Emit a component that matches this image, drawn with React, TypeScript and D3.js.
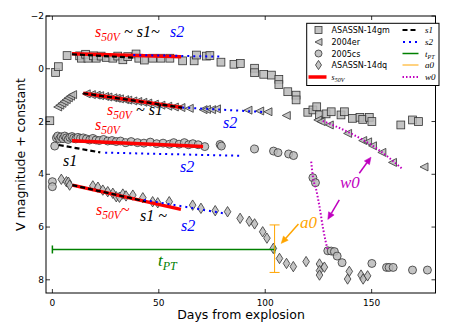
import React from 'react';
import * as d3 from 'd3';

// ---------------- DATA ----------------
// ASASSN-14gm (squares): [day, mag]
const gmData: [number, number][] = [
  [-1.2, 1.97], [1.5, 0.14], [2.8, -0.08], [6.9, -0.5], [12.8, -0.49], [13.6, -0.4], [15.6, -0.55],
  [16.7, -0.4], [19.3, -0.49], [20.6, -0.4], [22.9, -0.48], [25.3, -0.43], [28.4, -0.4], [30.7, -0.48],
  [33.1, -0.34], [35.4, -0.46], [39.3, -0.56], [40.6, -0.4], [43.2, -0.33], [47.1, -0.4], [51, -0.4],
  [55.2, -0.4], [61.2, -0.3], [66.6, -0.3], [67.7, -0.52], [72.4, -0.48], [74, -0.5], [79.2, -0.25],
  [85.3, -0.17], [88.3, -0.2], [95, -0.02], [95, 0.15], [99.3, 0.21], [102.9, 0.24], [106.4, 0.4],
  [106.4, 0.6], [110.6, 0.87], [114.5, 1.0], [114.5, 1.18], [120, 1.65], [122.4, 1.56], [124.2, 1.44],
  [125.5, 1.75], [128.6, 1.71], [131, 1.63], [135.6, 1.75], [137.2, 1.63], [141, 1.88], [144.5, 1.84],
  [145.8, 1.92], [148.9, 1.84], [150.1, 2.0], [163.7, 2.13], [169.2, 1.94], [172, 2.0],
];
// 2004er (left triangles)
const erData: [number, number][] = [
  [2.5, 1.45], [3.5, 1.38], [4.5, 1.31], [5.5, 1.24], [6.5, 1.17], [7.5, 1.1], [8.5, 1.04], [9.5, 0.98],
  [15.9, 0.95], [18.3, 0.98], [20.6, 1.0], [22.2, 1.02], [24.5, 1.05], [26.1, 1.07], [28.4, 1.1],
  [30, 1.12], [31.5, 1.14], [33.9, 1.17], [35.4, 1.19], [37.8, 1.22], [40.1, 1.24], [42.5, 1.27],
  [44.8, 1.3], [47.9, 1.34], [51, 1.38], [54.2, 1.42], [57.3, 1.45], [60.4, 1.47], [64.3, 1.5],
  [70.8, 1.55], [72.4, 1.54], [74.8, 1.55], [77.1, 1.52], [91.9, 1.57], [97.4, 1.6], [101.3, 1.63],
  [109.9, 1.77], [124.7, 1.94], [126.2, 2.0], [130.1, 2.13], [138.7, 2.45], [145.8, 2.72],
  [148.1, 2.77], [150.4, 2.92], [154.8, 3.17], [159.8, 3.55], [174.6, 3.72],
];
// 2005cs (circles)
const csData: [number, number][] = [
  [1.1, 2.93], [0, 4.28], [0, 4.47],
  [1.9, 2.62], [2.5, 2.55], [3.4, 2.66], [4.1, 2.58], [5, 2.65], [5.8, 2.55], [6.6, 2.62], [7.4, 2.68],
  [8.2, 2.6], [9.2, 2.57], [10, 2.63], [11, 2.66], [12, 2.6], [13.2, 2.64], [14.5, 2.62], [16, 2.66],
  [17.5, 2.7], [19, 2.64], [20.5, 2.7], [22, 2.72], [24, 2.68], [26, 2.74], [28, 2.72], [30, 2.76],
  [32, 2.74], [34.5, 2.8], [37, 2.76], [40, 2.8], [43, 2.82], [46, 2.78], [49, 2.84], [52, 2.82],
  [55, 2.86], [57, 2.8], [59.5, 2.86], [62, 2.8], [64, 2.88], [66, 2.84], [68.5, 2.88], [71.6, 2.95],
  [78.8, 2.87], [79.4, 2.93], [95, 3.04], [103.9, 3.12], [106, 3.18], [111, 3.23], [113.3, 3.29],
  [122.4, 4.13], [123.6, 4.32], [129.4, 6.9], [131, 6.91], [132.5, 6.93], [133.8, 7.1], [136.1, 7.35],
  [150.1, 7.38], [157, 7.53], [158.2, 7.53], [160.1, 7.53], [169.2, 7.63], [176.2, 7.63],
];
// ASASSN-14dq (thin diamonds)
const dqData: [number, number][] = [
  [4.2, 4.19], [6.6, 4.28], [7.5, 4.3], [8.1, 4.41], [19, 4.44], [21.4, 4.49], [23.7, 4.6], [26, 4.66],
  [28.4, 4.72], [30, 4.85], [31.5, 4.87], [33.1, 4.75], [34.6, 4.82], [37.8, 4.79], [42.5, 4.89],
  [47.1, 5.04], [49.5, 5.08], [54.9, 5.04], [65.9, 5.17], [69.8, 5.29], [76.5, 5.38], [82.3, 5.42],
  [88.2, 5.67], [92.5, 5.78], [95, 5.88], [98.8, 6.18], [100.8, 6.42], [103.8, 6.81], [106.7, 7.19],
  [110, 7.38], [113.2, 7.5], [119.2, 7.31], [125.5, 7.4], [125.5, 7.65], [125.5, 7.82], [127.8, 7.52],
  [139.5, 7.68], [138.7, 7.97], [145, 7.82], [146, 7.97], [148.1, 7.85],
];

// Fitted slopes: s50V (red), s1 (black dashed), s2 (blue dotted)
const s50vLines: [number, number][][] = [
  [[9.2, -0.57], [60.5, -0.46]],
  [[14.5, 0.93], [61, 1.47]],
  [[9.2, 2.73], [70.8, 2.95]],
  [[9.4, 4.41], [60.4, 5.33]],
];
const s1Lines: [number, number][][] = [
  [[9.2, -0.55], [38, -0.42]],
  [[14.5, 0.93], [61, 1.47]],
  [[3, 2.89], [22.5, 3.17]],
  [[9.4, 4.41], [44, 5.03]],
];
const s2Lines: [number, number][][] = [
  [[38, -0.52], [79, -0.46]],
  [[61, 1.47], [99.5, 1.64]],
  [[24.8, 3.18], [89, 3.3]],
  [[43, 4.97], [82, 5.5]],
];
const w0Lines: [number, number][][] = [
  [[127, 1.98], [139, 2.4], [152, 3.0], [164.5, 3.8]],
  [[121.6, 3.52], [122.4, 4.09], [124, 4.6], [125.5, 5.23], [127.3, 6.11], [129.4, 6.9]],
];
// t_PT and a0
const tPT = 104.4;
const tPTMag = 6.85;
const a0Range: [number, number] = [5.92, 7.72];

const xTicks = [0, 50, 100, 150];
const yTicks = [-2, 0, 2, 4, 6, 8];

const legendLeft = ['ASASSN-14gm', '2004er', '2005cs', 'ASASSN-14dq'];

// ---------------- SCALES ----------------
const x = d3.scaleLinear().domain([-3, 180]).range([46, 435.5]);
const y = d3.scaleLinear().domain([-2, 8.5]).range([16, 293]);
const line = d3.line<[number, number]>().x(d => x(d[0])).y(d => y(d[1]));
const curve = d3.line<[number, number]>().x(d => x(d[0])).y(d => y(d[1])).curve(d3.curveMonotoneX);

const RED = '#ff0000', BLUE = '#0000ff', GREEN = '#008000', ORANGE = '#ffa500', MAG = '#bf00bf';
const MFILL = '#bababa', MSTROKE = '#333';
const MATH = '"Liberation Serif", "DejaVu Serif", serif';
const SANS = '"DejaVu Sans", sans-serif';

function Square({ cx, cy, s = 3.9 }: any) {
  return <rect x={cx - s} y={cy - s} width={2 * s} height={2 * s} fill={MFILL} fillOpacity={0.85} stroke={MSTROKE} strokeWidth={0.8} />;
}
function Circ({ cx, cy, r = 4 }: any) {
  return <circle cx={cx} cy={cy} r={r} fill={MFILL} fillOpacity={0.85} stroke={MSTROKE} strokeWidth={0.8} />;
}
function Tri({ cx, cy, r = 4 }: any) {
  const p = `M${cx - r},${cy} L${cx + r},${cy - r} L${cx + r},${cy + r} Z`;
  return <path d={p} fill={MFILL} fillOpacity={0.85} stroke={MSTROKE} strokeWidth={0.8} />;
}
function Dia({ cx, cy, w = 3.3, h = 5.2 }: any) {
  const p = `M${cx},${cy - h} L${cx + w},${cy} L${cx},${cy + h} L${cx - w},${cy} Z`;
  return <path d={p} fill={MFILL} fillOpacity={0.85} stroke={MSTROKE} strokeWidth={0.8} />;
}

function Arrow({ from, to, color }: { from: [number, number]; to: [number, number]; color: string }) {
  const x1 = x(from[0]), y1 = y(from[1]), x2 = x(to[0]), y2 = y(to[1]);
  const ang = Math.atan2(y2 - y1, x2 - x1);
  const hl = 7, hw = 3.2;
  const bx = x2 - hl * Math.cos(ang), by = y2 - hl * Math.sin(ang);
  const px = -Math.sin(ang) * hw, py = Math.cos(ang) * hw;
  return (
    <g>
      <line x1={x1} y1={y1} x2={bx} y2={by} stroke={color} strokeWidth={1.5} />
      <path d={`M${x2},${y2} L${bx + px},${by + py} L${bx - px},${by - py} Z`} fill={color} stroke={color} strokeWidth={0.5} />
    </g>
  );
}

function S50V({ px, py, size = 16, sub = 11.5, color = RED, tail = '' }: any) {
  return (
    <text x={px} y={py} fontFamily={MATH} fontStyle="italic" fontSize={size} fill={color}>
      s<tspan fontSize={sub} dy={4}>50V</tspan><tspan dy={-4}>{tail}</tspan>
    </text>
  );
}
function T({ px, py, children, color, size = 16 }: any) {
  return <text x={px} y={py} fontFamily={MATH} fontStyle="italic" fontSize={size} fill={color}>{children}</text>;
}

export default function App() {
  const x0 = 46, x1 = 435.5, y0 = 16, y1 = 293;
  const legRows = [30, 42, 53.5, 65, 77];
  return (
    <svg width={458} height={327} style={{ position: 'fixed', left: 0, top: 0, background: '#fff' }}>
      <rect width={458} height={327} fill="#fff" />
      <g>
        {gmData.map((d, i) => <Square key={'g' + i} cx={x(d[0])} cy={y(d[1])} />)}
        {erData.map((d, i) => <Tri key={'e' + i} cx={x(d[0])} cy={y(d[1])} />)}
        {csData.map((d, i) => <Circ key={'c' + i} cx={x(d[0])} cy={y(d[1])} />)}
        {dqData.map((d, i) => <Dia key={'d' + i} cx={x(d[0])} cy={y(d[1])} />)}
      </g>
      <g>
        <line x1={x(0)} x2={x(tPT)} y1={y(tPTMag)} y2={y(tPTMag)} stroke={GREEN} strokeWidth={1.5} />
        <line x1={x(0)} x2={x(0)} y1={y(tPTMag) - 4} y2={y(tPTMag) + 4} stroke={GREEN} strokeWidth={1.5} />
        <line x1={x(tPT)} x2={x(tPT)} y1={y(tPTMag) - 4} y2={y(tPTMag) + 4} stroke={GREEN} strokeWidth={1.5} />
        <line x1={x(tPT)} x2={x(tPT)} y1={y(a0Range[0])} y2={y(a0Range[1])} stroke={ORANGE} strokeWidth={1} />
        <line x1={x(tPT) - 5} x2={x(tPT) + 5} y1={y(a0Range[0])} y2={y(a0Range[0])} stroke={ORANGE} strokeWidth={1} />
        <line x1={x(tPT) - 5} x2={x(tPT) + 5} y1={y(a0Range[1])} y2={y(a0Range[1])} stroke={ORANGE} strokeWidth={1} />
      </g>
      <g fill="none">
        {s50vLines.map((l, i) => <path key={'r' + i} d={line(l) as string} stroke={RED} strokeWidth={3.5} />)}
        {s1Lines.map((l, i) => <path key={'k' + i} d={line(l) as string} stroke="#000" strokeWidth={2.2} strokeDasharray="5,3" />)}
        {s2Lines.map((l, i) => <path key={'b' + i} d={line(l) as string} stroke={BLUE} strokeWidth={2} strokeDasharray="2,4" />)}
        {w0Lines.map((l, i) => <path key={'w' + i} d={curve(l) as string} stroke={MAG} strokeWidth={2} strokeDasharray="1.5,2" />)}
      </g>
      <g>
        <S50V px={95} py={36.5} />
        <T px={124} py={36.5} color="#000">~ s1~</T>
        <T px={170} py={36.5} color={BLUE}>s2</T>

        <S50V px={107} py={114.5} />
        <T px={136} py={114.5} color="#000">~ s1</T>
        <T px={223} py={128} color={BLUE}>s2</T>

        <S50V px={95} py={130} />
        <T px={63} py={166} color="#000">s1</T>
        <T px={180} py={172} color={BLUE}>s2</T>

        <S50V px={96} py={215} tail="~" />
        <T px={140} py={221} color="#000">s1 ~</T>
        <T px={181} py={231} color={BLUE}>s2</T>

        <text x={158} y={266} fontFamily={MATH} fontStyle="italic" fontSize={17} fill={GREEN}>
          t<tspan fontSize={12} dy={4}>PT</tspan>
        </text>
        <T px={300} py={227.5} color={ORANGE} size={17}>a0</T>
        <Arrow from={[115.6, 5.88]} to={[107.5, 6.62]} color={ORANGE} />
        <T px={340} py={187.5} color={MAG} size={17}>w0</T>
        <Arrow from={[144.2, 3.96]} to={[149.7, 3.35]} color={MAG} />
        <Arrow from={[134.8, 4.97]} to={[129.4, 5.71]} color={MAG} />
      </g>
      <rect x={x0} y={y0} width={x1 - x0} height={y1 - y0} fill="none" stroke="#000" strokeWidth={1} />
      <g stroke="#000" strokeWidth={0.8}>
        {xTicks.map(t => (
          <g key={'xt' + t}>
            <line x1={x(t)} x2={x(t)} y1={y1} y2={y1 - 4} />
            <line x1={x(t)} x2={x(t)} y1={y0} y2={y0 + 4} />
          </g>
        ))}
        {yTicks.map(t => (
          <g key={'yt' + t}>
            <line x1={x0} x2={x0 + 4} y1={y(t)} y2={y(t)} />
            <line x1={x1} x2={x1 - 4} y1={y(t)} y2={y(t)} />
          </g>
        ))}
      </g>
      <g fontFamily={SANS} fontSize={9} fill="#000">
        {xTicks.map(t => <text key={'xl' + t} x={x(t)} y={306} textAnchor="middle">{t}</text>)}
        {yTicks.map(t => <text key={'yl' + t} x={44} y={y(t) + 3.2} textAnchor="end">{t < 0 ? '\u2212' + Math.abs(t) : t}</text>)}
      </g>
      <text x={241} y={319} textAnchor="middle" fontFamily={SANS} fontSize={12.5}>Days from explosion</text>
      <text transform={`translate(24.5,${(y0 + y1) / 2}) rotate(-90)`} textAnchor="middle" fontFamily={SANS} fontSize={12.5}>V magnitude + constant</text>
      <g>
        <rect x={306.7} y={23.3} width={132.3} height={62.2} fill="#fff" stroke="#000" strokeWidth={1} />
        <Square cx={318.5} cy={legRows[0]} s={3.5} />
        <Tri cx={318.5} cy={legRows[1]} r={3.5} />
        <Circ cx={318.5} cy={legRows[2]} r={3.5} />
        <Dia cx={318.5} cy={legRows[3]} w={3} h={4.6} />
        <line x1={308.5} x2={326.5} y1={legRows[4]} y2={legRows[4]} stroke={RED} strokeWidth={3.5} />
        {legendLeft.map((n, i) => (
          <text key={n} x={331.5} y={legRows[i] + 3} fontFamily={SANS} fontSize={8}>{n}</text>
        ))}
        <text x={331.5} y={legRows[4] + 2.5} fontFamily={MATH} fontStyle="italic" fontSize={8}>s<tspan fontSize={6} dy={2}>50V</tspan></text>
        <line x1={402.5} x2={418.5} y1={legRows[0]} y2={legRows[0]} stroke="#000" strokeWidth={2.2} strokeDasharray="5,3" />
        <line x1={403} x2={418.5} y1={legRows[1]} y2={legRows[1]} stroke={BLUE} strokeWidth={2} strokeDasharray="2,4" />
        <line x1={402.5} x2={418.5} y1={legRows[2]} y2={legRows[2]} stroke={GREEN} strokeWidth={1.5} />
        <line x1={402.5} x2={418.5} y1={legRows[3]} y2={legRows[3]} stroke={ORANGE} strokeWidth={1} />
        <line x1={402.5} x2={418.5} y1={legRows[4]} y2={legRows[4]} stroke={MAG} strokeWidth={2} strokeDasharray="1.5,2" />
        <text x={425} y={legRows[0] + 3} fontFamily={MATH} fontStyle="italic" fontSize={9}>s1</text>
        <text x={425} y={legRows[1] + 3} fontFamily={MATH} fontStyle="italic" fontSize={9}>s2</text>
        <text x={425} y={legRows[2] + 3} fontFamily={MATH} fontStyle="italic" fontSize={9}>t<tspan fontSize={6} dy={2}>PT</tspan></text>
        <text x={425} y={legRows[3] + 3} fontFamily={MATH} fontStyle="italic" fontSize={9}>a0</text>
        <text x={425} y={legRows[4] + 3} fontFamily={MATH} fontStyle="italic" fontSize={9}>w0</text>
      </g>
    </svg>
  );
}
